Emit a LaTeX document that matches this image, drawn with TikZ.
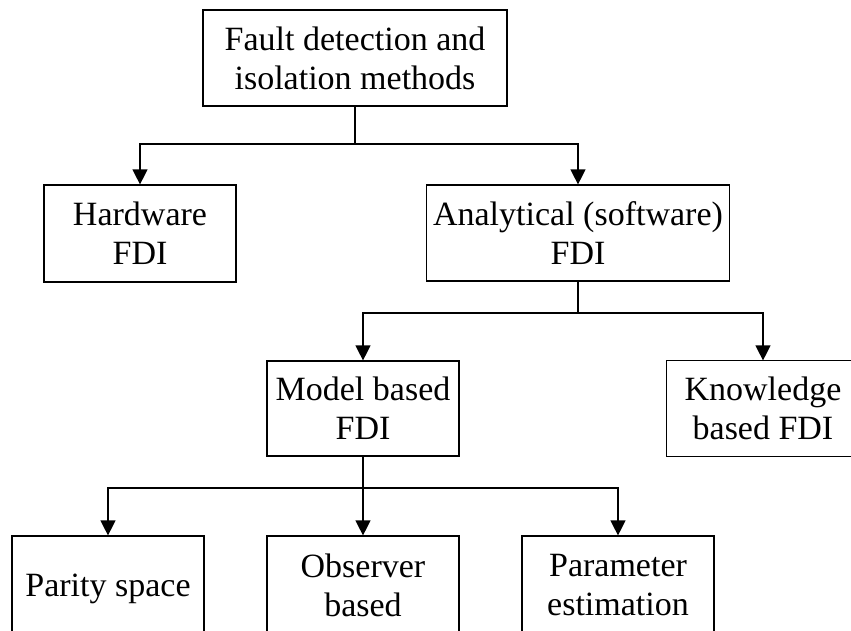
\documentclass[tikz,border=0pt]{standalone}
\usepackage{fontspec}
\setmainfont{Liberation Serif}
\usetikzlibrary{arrows.meta}
\begin{document}
\begin{tikzpicture}[x=1pt,y=-1pt,
  box/.style={draw,line width=1.2pt,rectangle,align=center,inner sep=0pt,
    font=\fontsize{34}{39}\selectfont},
  conn/.style={line width=1.2pt},
  arr/.style={conn,-{Triangle[length=15pt,width=15pt]}}]
\useasboundingbox (0,0) rectangle (851,630);
\clip (0,0) rectangle (851,630);
\fill[white] (0,0) rectangle (851,630);
\node[box,minimum width=304pt,minimum height=96pt] (top) at (355,58) {Fault detection and\\isolation methods};
\node[box,minimum width=192pt,minimum height=97pt] (hw) at (140,233.5) {Hardware\\FDI};
\node[box,minimum width=303pt,minimum height=96pt] (an) at (578,233) {Analytical (software)\\FDI};
\node[box,minimum width=192pt,minimum height=95pt] (mb) at (363,408.5) {Model based\\FDI};
\node[box,draw=none,minimum width=192pt,minimum height=95pt] (kb) at (763,408.5) {Knowledge\\based FDI};
\draw[conn] (kb.north east) -- (kb.north west) -- (kb.south west) -- (kb.south east);
\node[box,minimum width=192pt,minimum height=106pt] (ps) at (108,589) {Parity space};
\node[box,minimum width=192pt,minimum height=98pt] (ob) at (363,585) {Observer\\based};
\node[box,minimum width=192pt,minimum height=98pt] (pe) at (618,585) {Parameter\\estimation};
\coordinate (j1) at (355,144);
\coordinate (j2) at (578,313);
\coordinate (j3) at (363,488);
\draw[conn] (top.south) -- (j1);
\draw[arr] (j1) -| (hw.north);
\draw[arr] (j1) -| (an.north);
\draw[conn] (an.south) -- (j2);
\draw[arr] (j2) -| (mb.north);
\draw[arr] (j2) -| (kb.north);
\draw[arr] (mb.south) -- (ob.north);
\draw[arr] (j3) -| (ps.north);
\draw[arr] (j3) -| (pe.north);
\end{tikzpicture}
\end{document}
